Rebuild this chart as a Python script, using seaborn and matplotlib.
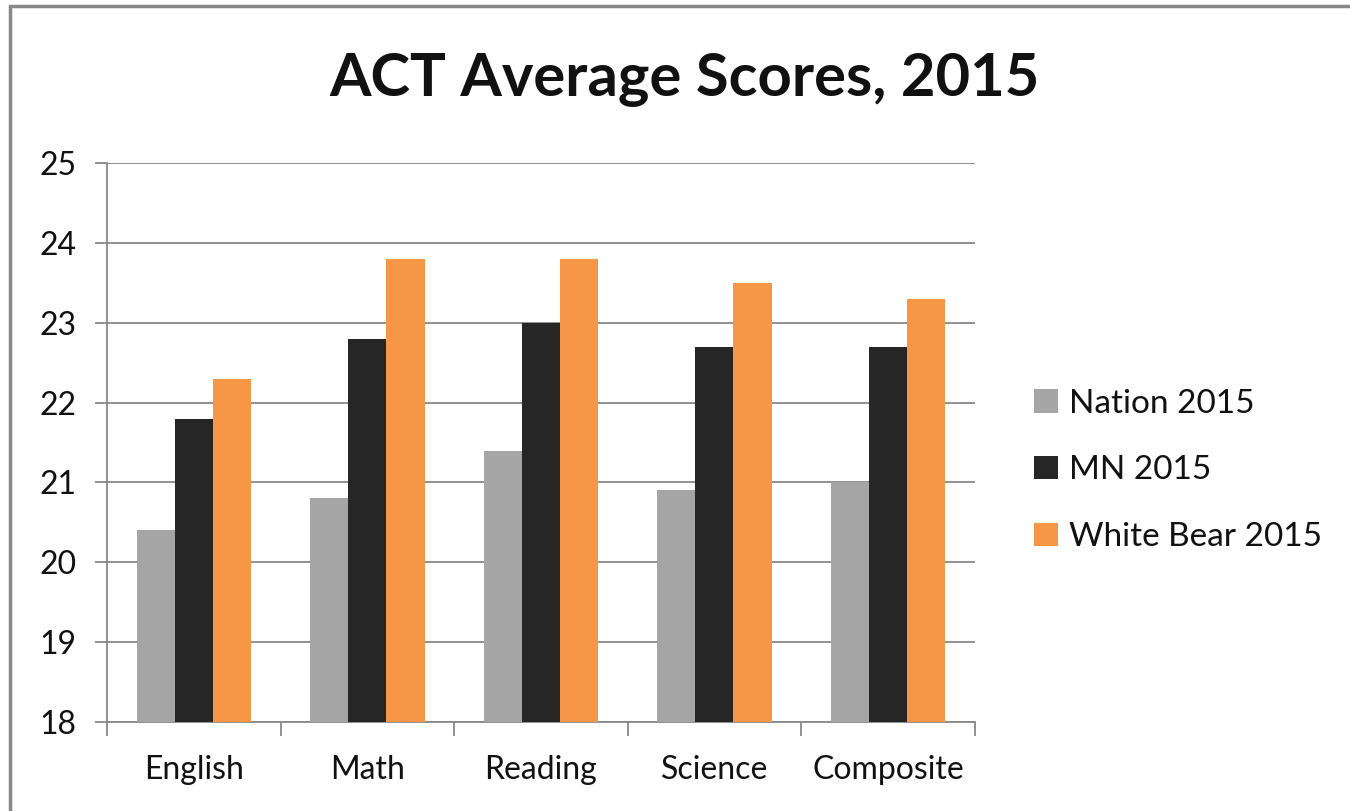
import matplotlib.pyplot as plt
import pandas as pd
import seaborn as sns
from matplotlib.lines import Line2D

# Data
subjects = ['English', 'Math', 'Reading', 'Science', 'Composite']
nation = [20.4, 20.8, 21.4, 20.9, 21.0]
mn = [21.8, 22.8, 23.0, 22.7, 22.7]
white_bear = [22.3, 23.8, 23.8, 23.5, 23.3]
series_names = ['Nation 2015', 'MN 2015', 'White Bear 2015']
colors = ['#A5A5A5', '#262626', '#F79646']

df = pd.DataFrame({
    'subject': subjects * 3,
    'score': nation + mn + white_bear,
    'series': [s for s in series_names for _ in subjects],
})

sns.set_theme(style='white')
plt.rcParams['font.family'] = ['Lato', 'DejaVu Sans']

fig = plt.figure(figsize=(13.5, 8.11), dpi=100)
ax = fig.add_axes([0.0793, 0.1097, 0.6427, 0.6893])

sns.barplot(data=df, x='subject', y='score', hue='series', order=subjects,
            hue_order=series_names, palette=colors, width=0.66, gap=0,
            saturation=1, linewidth=0, ax=ax, legend=True, zorder=3)

# bars start at the bottom of the axis
ax.set_ylim(18, 25)
ax.set_yticks(range(18, 26))
ax.set_xlim(-0.5, len(subjects) - 0.5)
ax.grid(axis='y', color='#888888', linewidth=1.3, zorder=0)
ax.set_axisbelow(True)
for side in ['top', 'right']:
    ax.spines[side].set_visible(False)
for side in ['left', 'bottom']:
    ax.spines[side].set_color('#888888')
    ax.spines[side].set_linewidth(1.3)

ax.set_xlabel('')
ax.set_ylabel('')
ax.tick_params(axis='y', left=True, length=9, width=1.3, color='#888888',
               pad=13, labelsize=23, labelcolor='#111111')
ax.tick_params(axis='x', which='major', length=0, pad=24, labelsize=23,
               labelcolor='#111111')
ax.set_xticks([i - 0.5 for i in range(len(subjects) + 1)], minor=True)
ax.tick_params(axis='x', which='minor', bottom=True, length=10, width=1.3,
               color='#888888')

handles, labels = ax.get_legend_handles_labels()
ax.get_legend().remove()
fig.legend(handles, labels, loc='center left', bbox_to_anchor=(0.744, 0.42),
           frameon=False, fontsize=24, handlelength=0.7, handleheight=0.7,
           handletextpad=0.35, labelspacing=1.1, labelcolor='#111111')

fig.text(0.507, 0.901, 'ACT Average Scores, 2015', ha='center', va='center',
         fontsize=43, fontweight='bold', color='#111111')

# outer chart border (top and left edges visible)
fig.add_artist(Line2D([10 / 1350, 10 / 1350], [0, 1 - 6 / 811],
                      transform=fig.transFigure, color='#888888', linewidth=2.5))
fig.add_artist(Line2D([10 / 1350, 1], [1 - 6 / 811, 1 - 6 / 811],
                      transform=fig.transFigure, color='#888888', linewidth=2.5))

fig.savefig('out.png', dpi=100)
